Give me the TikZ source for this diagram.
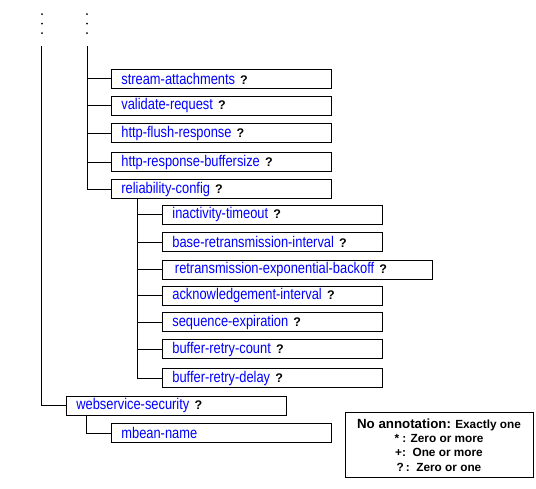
\documentclass[tikz,border=0pt]{standalone}
\usepackage{fontspec}
\setmainfont{Liberation Sans}
\newfontfamily\tagfont[FakeStretch=0.83]{Liberation Sans}
\definecolor{tagblue}{RGB}{0,0,255}
\newcommand\optmark{\textcolor{black}{\normalfont\bfseries\fontsize{12.5}{12.5}\selectfont ?}}

\begin{document}
\begin{tikzpicture}[x=1pt, y=-1pt,
    elem/.style = {draw, line width=0.8pt, anchor=west, minimum height=19pt,
      text width=200pt, inner xsep=10pt, inner ysep=0pt, align=left,
      text=tagblue, font=\tagfont\fontsize{15.5}{16}\selectfont},
    wide/.style = {elem, text width=250pt},
    link/.style = {line width=0.8pt},
    key/.style = {draw, line width=0.8pt, minimum width=188pt, minimum height=65pt,
      align=center, font=\bfseries\fontsize{11.8}{14.3}\selectfont}]
  \useasboundingbox (0,0) rectangle (536,488);

  % elided ancestors
  \foreach \x in {42,87}
    \foreach \y in {14,23.5,33}
      \fill (\x,\y) circle (1pt);
  \coordinate (top1) at (41,46);
  \coordinate (top2) at (87,46);

  % children of the upper element
  \node[elem] (stream) at (111,78.5) {stream-attachments \optmark};
  \node[elem] (validate) at (111,105.5) {validate-request \optmark};
  \node[elem] (flush) at (111,133) {http-flush-response \optmark};
  \node[elem] (buffersize) at (111,162) {http-response-buffersize \optmark};
  \node[elem] (reliability) at (111,189) {reliability-config \optmark};

  % reliability-config children
  \node[elem] (inactivity) at (162,214.5) {inactivity-timeout \optmark};
  \node[elem] (baseretrans) at (162,242) {base-retransmission-interval \optmark};
  \node[wide] (backoff) at (162,269.5) {\,retransmission-exponential-backoff \optmark};
  \node[elem] (ackinterval) at (162,295.5) {acknowledgement-interval \optmark};
  \node[elem] (seqexpire) at (162,322) {sequence-expiration \optmark};
  \node[elem] (retrycount) at (162,349) {buffer-retry-count \optmark};
  \node[elem] (retrydelay) at (162,378) {buffer-retry-delay \optmark};

  \node[elem] (wssecurity) at (66,405.5) {webservice-security \optmark};
  \node[elem] (mbean) at (111,433) {mbean-name};

  \coordinate (top3) at ([xshift=26pt]reliability.south west);
  \coordinate (top4) at ([xshift=20pt]wssecurity.south west);

  \draw[link] (top1) |- (wssecurity.west);
  \foreach \n in {stream,validate,flush,buffersize,reliability}
    \draw[link] (top2) |- (\n.west);
  \foreach \n in {inactivity,baseretrans,backoff,ackinterval,seqexpire,retrycount,retrydelay}
    \draw[link] (top3) |- (\n.west);
  \draw[link] (top4) |- (mbean.west);

  % legend
  \node[key] (legend) at (439,445) {{\fontsize{13.3}{14.3}\selectfont No annotation:} Exactly one\\
    * : Zero or more\\
    +:\ \ One or more\\
    ?\,:\ \ Zero or one};
\end{tikzpicture}
\end{document}
